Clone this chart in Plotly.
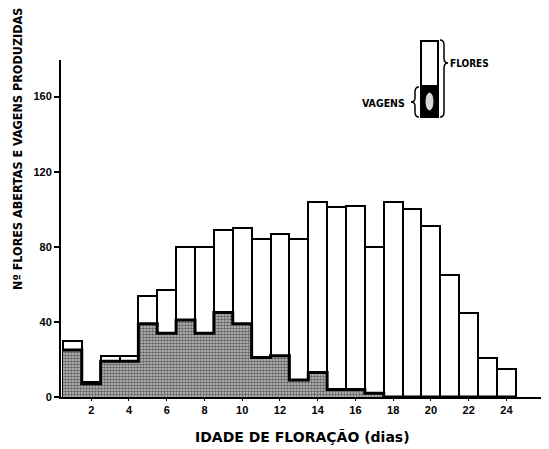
import plotly.graph_objects as go

# ---- data ----
days = list(range(1, 25))
flores = [30, 8, 22, 22, 54, 57, 80, 80, 89, 90, 84, 87, 84, 104, 101, 102, 80, 104, 100, 91, 65, 45, 21, 15]
vagens = [25, 7, 19, 19, 39, 34, 41, 34, 45, 39, 21, 22, 9, 13, 4, 4, 2, 0, 0, 0, 0, 0, 0, 0]
x_ticks = [2, 4, 6, 8, 10, 12, 14, 16, 18, 20, 22, 24]
y_ticks = [0, 40, 80, 120, 160]

# page body has an 8px margin; positions below are given in window pixels
OFF = 8
W, H = 549 - OFF, 449 - OFF
ML, MR, MT, MB = 53, 2, 52, 52
PW, PH = W - ML - MR, H - MT - MB

def px(x):
    return (x - OFF - ML) / PW

def py(y):
    return (H - MB - (y - OFF)) / PH

FONT = "Liberation Sans, Arial, sans-serif"
WIDE = "DejaVu Sans, Verdana, sans-serif"
NARROW = "Liberation Sans Narrow, DejaVu Sans Condensed, Arial Narrow, sans-serif"

fig = go.Figure()
fig.add_trace(go.Bar(
    x=days, y=flores, width=1,
    marker=dict(color="white", line=dict(color="black", width=2)),
    name="FLORES", showlegend=False, hoverinfo="x+y",
))
fig.add_trace(go.Bar(
    x=days, y=vagens, width=1,
    marker=dict(
        color="#8a8a8a",
        line=dict(color="#555555", width=0),
        pattern=dict(shape=".", fgcolor="#000000", bgcolor="#c4c4c4", size=3, solidity=0.55),
    ),
    name="VAGENS", showlegend=False, hoverinfo="x+y",
))
# heavy black top edge of the VAGENS area (step outline)
step_x = [d - 0.5 for d in days] + [days[-1] + 0.5]
step_y = vagens + [vagens[-1]]
fig.add_trace(go.Scatter(
    x=step_x, y=step_y, mode="lines", line=dict(color="black", width=3, shape="hv"),
    showlegend=False, hoverinfo="skip",
))

fig.update_layout(
    width=W, height=H,
    margin=dict(l=ML, r=MR, t=MT, b=MB, autoexpand=False),
    paper_bgcolor="white", plot_bgcolor="white",
    barmode="overlay", bargap=0,
    showlegend=False,
    font=dict(family=FONT, color="black", size=11, weight="bold"),
)
fig.update_xaxes(
    range=[0.4, 26.15], tickvals=x_ticks, ticktext=[str(v) for v in x_ticks],
    showline=True, linecolor="black", linewidth=2, showgrid=False, zeroline=False,
    ticks="outside", ticklen=2, tickwidth=1, tickcolor="black", automargin=False,
    tickfont=dict(size=11, family=FONT, weight="bold"),
)
fig.update_yaxes(
    range=[0, 179.5], tickvals=y_ticks, ticktext=[str(v) for v in y_ticks],
    showline=True, linecolor="black", linewidth=2, showgrid=False, zeroline=False,
    ticks="outside", ticklen=5, tickwidth=2, tickcolor="black", automargin=False,
    tickfont=dict(size=11, family=FONT, weight="bold"),
)

# axis titles
fig.add_annotation(
    text="IDADE DE FLORAÇÃO (dias)", xref="paper", yref="paper",
    x=px(302), y=py(437), xanchor="center", yanchor="middle", showarrow=False,
    font=dict(size=14, family=WIDE, weight="bold"),
)
fig.add_annotation(
    text="Nº FLORES ABERTAS E VAGENS PRODUZIDAS", xref="paper", yref="paper",
    x=px(17), y=py(149), xanchor="center", yanchor="middle", showarrow=False, textangle=-90,
    font=dict(size=12.5, family=NARROW, weight="bold"),
)

# ---- legend drawing (decoration) ----
shapes = []
shapes.append(dict(type="rect", xref="paper", yref="paper",
                   x0=px(421), x1=px(438), y0=py(117), y1=py(41),
                   fillcolor="white", line=dict(color="black", width=2)))
shapes.append(dict(type="rect", xref="paper", yref="paper",
                   x0=px(421), x1=px(438), y0=py(117), y1=py(86),
                   fillcolor="black", line=dict(color="black", width=2)))
shapes.append(dict(type="circle", xref="paper", yref="paper",
                   x0=px(426), x1=px(433), y0=py(110), y1=py(93),
                   fillcolor="#d9d9d9", line=dict(color="#d9d9d9", width=1)))

def path(points):
    s = ""
    for cmd, pts in points:
        s += cmd + " " + " ".join(f"{px(a):.5f},{py(b):.5f}" for a, b in pts) + " "
    return s.strip()

# right brace (FLORES)
rb = path([
    ("M", [(440, 40)]),
    ("Q", [(444, 40), (444, 45)]),
    ("L", [(444, 58)]),
    ("Q", [(444, 63), (448, 63)]),
    ("Q", [(444, 63), (444, 68)]),
    ("L", [(444, 112)]),
    ("Q", [(444, 117), (440, 117)]),
])
shapes.append(dict(type="path", xref="paper", yref="paper", path=rb,
                   line=dict(color="black", width=1.5)))
# left brace (VAGENS)
lb = path([
    ("M", [(419, 87)]),
    ("Q", [(415, 87), (415, 92)]),
    ("L", [(415, 98)]),
    ("Q", [(415, 102), (411, 102)]),
    ("Q", [(415, 102), (415, 106)]),
    ("L", [(415, 112)]),
    ("Q", [(415, 117), (419, 117)]),
])
shapes.append(dict(type="path", xref="paper", yref="paper", path=lb,
                   line=dict(color="black", width=1.5)))
fig.update_layout(shapes=shapes)

fig.add_annotation(text="FLORES", xref="paper", yref="paper",
                   x=px(448), y=py(64), xanchor="left", yanchor="middle", showarrow=False,
                   font=dict(size=10, family=NARROW, weight="bold"))
fig.add_annotation(text="VAGENS", xref="paper", yref="paper",
                   x=px(407), y=py(103), xanchor="right", yanchor="middle", showarrow=False,
                   font=dict(size=10.5, family=NARROW, weight="bold"))

fig.write_html("out.html")
